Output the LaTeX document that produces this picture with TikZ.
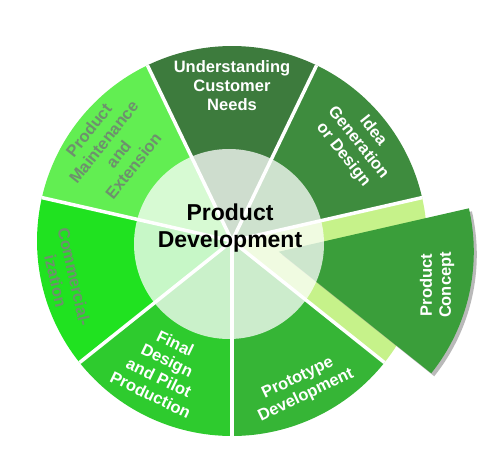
\documentclass[tikz,border=0pt]{standalone}
\usepackage{fontspec}
\setmainfont{Liberation Sans}
\usepackage{tikz}
\usetikzlibrary{shadows}
\definecolor{needsgreen}{HTML}{3D7B3D}
\definecolor{ideagreen}{HTML}{3E8C3E}
\definecolor{maintgreen}{HTML}{62EE52}
\definecolor{commgreen}{HTML}{20E220}
\definecolor{finalgreen}{HTML}{2ECB2E}
\definecolor{protogreen}{HTML}{36B536}
\definecolor{conceptgreen}{HTML}{3A9E3A}
\definecolor{slotgreen}{HTML}{C6F28A}
\definecolor{fadedgrey}{HTML}{6E906E}
\tikzset{seglabel/.style={font=\bfseries\fontsize{16.5}{19}\selectfont,align=center,text=white,inner sep=0pt},
         fadedlabel/.style={seglabel,text=fadedgrey},
         hublabel/.style={font=\bfseries\fontsize{23}{27}\selectfont,align=center,inner sep=0pt},
         divider/.style={white,line width=3.5pt}}

\begin{document}
\begin{tikzpicture}[x=1pt,y=1pt]
    \useasboundingbox (0,0) rectangle (489,468);
    \coordinate (o) at (232,227);
    \coordinate (p) at (278.8,216.3);

    % seven slices
    \fill[protogreen] (o) -- ++(-90:195) arc[start angle=-90,end angle=-38.57,radius=195] -- cycle;
    \fill[slotgreen] (o) -- ++(-38.57:195) arc[start angle=-38.57,end angle=12.86,radius=195] -- cycle;
    \fill[ideagreen] (o) -- ++(12.86:195) arc[start angle=12.86,end angle=64.29,radius=195] -- cycle;
    \fill[needsgreen] (o) -- ++(64.29:195) arc[start angle=64.29,end angle=115.71,radius=195] -- cycle;
    \fill[maintgreen] (o) -- ++(115.71:195) arc[start angle=115.71,end angle=167.14,radius=195] -- cycle;
    \fill[commgreen] (o) -- ++(167.14:195) arc[start angle=167.14,end angle=218.57,radius=195] -- cycle;
    \fill[finalgreen] (o) -- ++(218.57:195) arc[start angle=218.57,end angle=270,radius=195] -- cycle;

    % pulled out slice
    \fill[conceptgreen,drop shadow={shadow xshift=3pt,shadow yshift=-3pt,opacity=0.55}] (p) -- ++(-38.57:195) arc[start angle=-38.57,end angle=12.86,radius=195] -- cycle;

    % hub
    \fill[white,opacity=0.75] (229,224) circle[radius=95];

    \draw[divider] (o) -- ++(-90:195);
    \draw[divider] (o) -- ++(-38.57:195);
    \draw[divider] (o) -- ++(12.86:195);
    \draw[divider] (o) -- ++(64.29:195);
    \draw[divider] (o) -- ++(115.71:195);
    \draw[divider] (o) -- ++(167.14:195);
    \draw[divider] (o) -- ++(218.57:195);

    \node[hublabel] (hub) at (230,240) {Product\\Development};
    \node[seglabel] (needs) at (232,382) {Understanding\\Customer\\Needs};
    \node[seglabel,rotate=-51.4] (idea) at (358,325) {Idea\\Generation\\or Design};
    \node[fadedlabel,rotate=51.4] (maint) at (111,320) {Product\\Maintenance\\and\\Extension};
    \node[fadedlabel,rotate=-77.1] (comm) at (65,189) {Commercial-\\ization};
    \node[seglabel,rotate=-25.7] (final) at (163,99) {Final\\Design\\and Pilot\\Production};
    \node[seglabel,rotate=25.7] (proto) at (302,81) {Prototype\\Development};
    \node[seglabel,rotate=90] (concept) at (437,183) {Product\\Concept};
\end{tikzpicture}
\end{document}
